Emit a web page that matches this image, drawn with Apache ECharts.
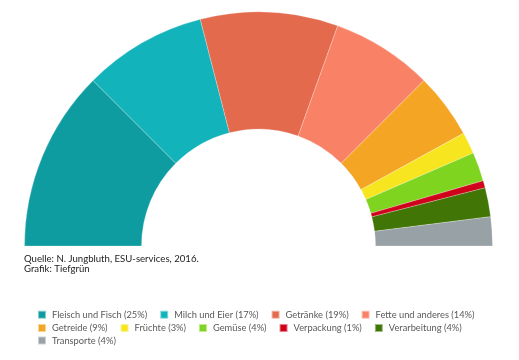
<!DOCTYPE html>
<html><head><meta charset="utf-8">
<script src="https://cdn.jsdelivr.net/npm/echarts@6/dist/echarts.min.js"></script>
<style>html,body{margin:0;padding:0;background:#fff}#c{width:519px;height:360px}</style>
</head><body><div id="c"></div>
<script>
const categories = ['Fleisch und Fisch','Milch und Eier','Getränke','Fette und anderes','Getreide','Früchte','Gemüse','Verpackung','Verarbeitung','Transporte'];
const values = [25,17,19,14,9,3,4,1,4,4];
const colors = ['#0E9CA1','#12B3BA','#E46A4D','#F98166','#F4A523','#F7E520','#7FD41F','#D0021B','#417505','#98A2A6'];
const legendRows = [[0,4],[4,9],[9,10]];
const sourceLines = ['Quelle: N. Jungbluth, ESU-services, 2016.','Grafik: Tiefgrün'];

const chart = echarts.init(document.getElementById('c'));
const data = categories.map((c,i)=>({name:c, value:values[i], itemStyle:{color:colors[i]}}));
const rowTops = [309.7, 323, 335.5];
const legends = legendRows.map((r,k)=>({
  left:37, top:rowTops[k], padding:0,
  orient:'horizontal',
  data: categories.slice(r[0], r[1]),
  itemWidth:8, itemHeight:8, itemGap:12,
  icon:'rect',
  textStyle:{fontFamily:'Lato', fontSize:9.3, color:'#595959', padding:[0,0,0,1]},
  formatter: n => n + ' (' + values[categories.indexOf(n)] + '%)'
}));
chart.setOption({
  animation:false,
  legend:legends,
  graphic:[{
    type:'text', left:24, top:254,
    style:{text:sourceLines.join('\n'), font:'9.6px Lato', fill:'#222', lineHeight:9.5}
  }],
  series:[{
    type:'pie',
    center:[258.5,246],
    radius:[117,234],
    startAngle:180, endAngle:0,
    clockwise:true,
    label:{show:false}, labelLine:{show:false},
    itemStyle:{borderColor:'rgba(255,255,255,0.5)', borderWidth:0.5},
    emphasis:{disabled:true},
    data:data
  }]
});
</script></body></html>
